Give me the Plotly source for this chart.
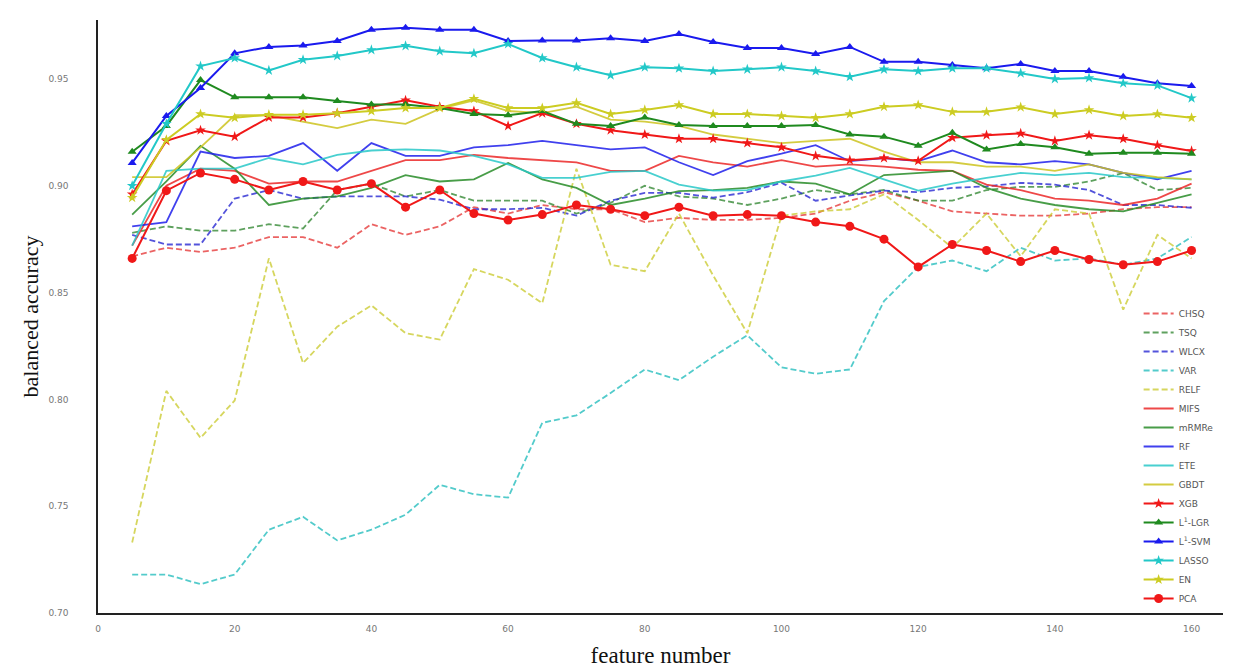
import plotly.graph_objects as go

feature_number = [5, 10, 15, 20, 25, 30, 35, 40, 45, 50, 55, 60, 65, 70, 75, 80,
                  85, 90, 95, 100, 105, 110, 115, 120, 125, 130, 135, 140, 145, 150, 155, 160]

CHSQ = [0.867, 0.871, 0.869, 0.871, 0.876, 0.876, 0.871, 0.882, 0.877, 0.881, 0.890, 0.887, 0.891, 0.889, 0.889, 0.883,
        0.885, 0.884, 0.884, 0.885, 0.887, 0.893, 0.897, 0.893, 0.888, 0.887, 0.886, 0.886, 0.887, 0.889, 0.890, 0.890]
TSQ = [0.878, 0.881, 0.879, 0.879, 0.882, 0.880, 0.898, 0.901, 0.895, 0.898, 0.893, 0.893, 0.893, 0.887, 0.892, 0.900,
       0.895, 0.894, 0.891, 0.894, 0.898, 0.896, 0.898, 0.893, 0.893, 0.898, 0.8995, 0.8995, 0.902, 0.906, 0.898, 0.899]
WLCX = [0.877, 0.8725, 0.8725, 0.894, 0.898, 0.894, 0.895, 0.895, 0.895, 0.8935, 0.889, 0.889, 0.8897, 0.886, 0.893, 0.8967,
        0.8967, 0.8944, 0.897, 0.9014, 0.893, 0.8955, 0.8977, 0.897, 0.899, 0.8997, 0.9014, 0.9005, 0.898, 0.891, 0.891, 0.8897]
VAR = [0.718, 0.718, 0.7135, 0.718, 0.739, 0.745, 0.734, 0.739, 0.746, 0.760, 0.7556, 0.754, 0.789, 0.7925, 0.803, 0.814,
       0.809, 0.820, 0.830, 0.815, 0.812, 0.814, 0.846, 0.862, 0.865, 0.860, 0.871, 0.865, 0.866, 0.863, 0.866, 0.876]
RELF = [0.733, 0.804, 0.782, 0.7995, 0.866, 0.817, 0.834, 0.844, 0.831, 0.828, 0.861, 0.856, 0.845, 0.908, 0.863, 0.860,
        0.887, 0.858, 0.831, 0.886, 0.888, 0.889, 0.896, 0.884, 0.871, 0.887, 0.867, 0.889, 0.887, 0.842, 0.877, 0.866]
MIFS = [0.872, 0.900, 0.908, 0.907, 0.901, 0.902, 0.902, 0.907, 0.912, 0.912, 0.9145, 0.913, 0.912, 0.911, 0.907, 0.907,
        0.914, 0.911, 0.909, 0.912, 0.909, 0.910, 0.909, 0.9075, 0.907, 0.9005, 0.898, 0.894, 0.893, 0.891, 0.894, 0.901]
mRMRe = [0.8865, 0.902, 0.9187, 0.908, 0.891, 0.894, 0.895, 0.899, 0.905, 0.902, 0.903, 0.9107, 0.903, 0.899, 0.891, 0.894,
         0.8975, 0.898, 0.899, 0.902, 0.901, 0.896, 0.905, 0.906, 0.907, 0.899, 0.894, 0.891, 0.889, 0.888, 0.892, 0.896]
RF = [0.881, 0.883, 0.916, 0.913, 0.914, 0.920, 0.907, 0.920, 0.914, 0.914, 0.918, 0.919, 0.921, 0.919, 0.917, 0.918,
      0.911, 0.905, 0.9115, 0.915, 0.919, 0.9115, 0.913, 0.9115, 0.9165, 0.911, 0.910, 0.9115, 0.910, 0.906, 0.903, 0.907]
ETE = [0.872, 0.907, 0.908, 0.908, 0.913, 0.910, 0.9145, 0.9165, 0.917, 0.9165, 0.914, 0.910, 0.9037, 0.9037, 0.9065, 0.907,
       0.9005, 0.8977, 0.898, 0.902, 0.9047, 0.9084, 0.903, 0.8977, 0.901, 0.9037, 0.906, 0.905, 0.906, 0.904, 0.9037, 0.903]
GBDT = [0.904, 0.904, 0.918, 0.933, 0.933, 0.930, 0.927, 0.931, 0.929, 0.936, 0.940, 0.935, 0.934, 0.937, 0.931, 0.930,
        0.928, 0.924, 0.922, 0.920, 0.921, 0.922, 0.916, 0.911, 0.911, 0.909, 0.909, 0.907, 0.910, 0.906, 0.904, 0.903]
XGB = [0.896, 0.921, 0.926, 0.923, 0.932, 0.932, 0.934, 0.937, 0.940, 0.937, 0.935, 0.928, 0.934, 0.929, 0.926, 0.924,
       0.922, 0.922, 0.920, 0.918, 0.914, 0.912, 0.913, 0.9117, 0.9225, 0.9237, 0.9245, 0.921, 0.9237, 0.922, 0.919, 0.9163]
L1_LGR = [0.9159, 0.928, 0.9495, 0.9414, 0.9414, 0.9414, 0.9397, 0.938, 0.938, 0.9364, 0.9336, 0.933, 0.935, 0.929, 0.928, 0.932,
          0.9285, 0.928, 0.928, 0.928, 0.9285, 0.924, 0.923, 0.9187, 0.9248, 0.917, 0.9196, 0.918, 0.915, 0.9155, 0.9155, 0.915]
L1_SVM = [0.9107, 0.9327, 0.9458, 0.962, 0.965, 0.9657, 0.9678, 0.973, 0.974, 0.973, 0.973, 0.9678, 0.968, 0.968, 0.969, 0.9678,
          0.971, 0.9673, 0.9645, 0.9645, 0.9617, 0.965, 0.958, 0.958, 0.9565, 0.955, 0.957, 0.9537, 0.9537, 0.951, 0.948, 0.9467]
LASSO = [0.900, 0.929, 0.956, 0.9598, 0.954, 0.959, 0.9608, 0.9636, 0.9655, 0.963, 0.962, 0.9664, 0.9598, 0.9555, 0.9518, 0.9555,
         0.955, 0.9537, 0.9545, 0.9555, 0.9537, 0.951, 0.9545, 0.9537, 0.955, 0.955, 0.9527, 0.950, 0.9505, 0.948, 0.947, 0.941]
EN = [0.8944, 0.9215, 0.9336, 0.9318, 0.9333, 0.9333, 0.934, 0.935, 0.9364, 0.9364, 0.9407, 0.9364, 0.9364, 0.9388, 0.9336, 0.9355,
      0.9378, 0.9336, 0.9336, 0.9327, 0.9318, 0.9336, 0.937, 0.9378, 0.9346, 0.9346, 0.9368, 0.9336, 0.9355, 0.9327, 0.9336, 0.9318]
PCA = [0.866, 0.8977, 0.906, 0.903, 0.898, 0.902, 0.898, 0.901, 0.890, 0.898, 0.887, 0.884, 0.8865, 0.891, 0.889, 0.886,
       0.890, 0.886, 0.8865, 0.886, 0.883, 0.881, 0.875, 0.862, 0.8725, 0.8697, 0.8645, 0.8697, 0.8655, 0.863, 0.8645, 0.8697]

x_ticks = [0, 20, 40, 60, 80, 100, 120, 140, 160]
y_ticks = [0.70, 0.75, 0.80, 0.85, 0.90, 0.95]

RED = "#f01818"
GREEN = "#1f8a1f"
BLUE = "#1a1aee"
CYAN = "#22c8c8"
YEL = "#cccc22"

series = [
    ("CHSQ", CHSQ, "rgba(230,60,60,0.8)", "dash", None),
    ("TSQ", TSQ, "rgba(40,130,40,0.75)", "dash", None),
    ("WLCX", WLCX, "rgba(40,40,210,0.8)", "dash", None),
    ("VAR", VAR, "rgba(40,190,190,0.8)", "dash", None),
    ("RELF", RELF, "rgba(200,200,40,0.75)", "dash", None),
    ("MIFS", MIFS, "rgba(235,40,40,0.85)", "solid", None),
    ("mRMRe", mRMRe, "rgba(40,140,40,0.85)", "solid", None),
    ("RF", RF, "rgba(30,30,235,0.85)", "solid", None),
    ("ETE", ETE, "rgba(40,200,200,0.85)", "solid", None),
    ("GBDT", GBDT, "rgba(205,195,30,0.85)", "solid", None),
    ("XGB", XGB, RED, "solid", "star"),
    ("L<sup>1</sup>-LGR", L1_LGR, GREEN, "solid", "triangle-up"),
    ("L<sup>1</sup>-SVM", L1_SVM, BLUE, "solid", "triangle-up"),
    ("LASSO", LASSO, CYAN, "solid", "star"),
    ("EN", EN, YEL, "solid", "star"),
    ("PCA", PCA, RED, "solid", "circle"),
]

fig = go.Figure()
for name, vals, color, dash, marker in series:
    if marker is None:
        fig.add_trace(go.Scatter(
            x=feature_number, y=vals, name=name, mode="lines",
            line=dict(color=color, width=1.8, dash=("6px,3px" if dash == "dash" else "solid")),
        ))
    else:
        fig.add_trace(go.Scatter(
            x=feature_number, y=vals, name=name, mode="lines+markers",
            line=dict(color=color, width=2),
            marker=dict(symbol=marker, size=(9 if marker == "circle" else 8), color=color),
        ))

fig.update_layout(
    width=1234, height=667,
    margin=dict(l=90, r=19, t=12, b=62),
    paper_bgcolor="white", plot_bgcolor="white",
    showlegend=True,
    legend=dict(
        x=0.925, xanchor="left", y=0.0, yanchor="bottom",
        bgcolor="rgba(255,255,255,0)",
        font=dict(family="DejaVu Sans", size=9, color="#555"),
        itemwidth=30, tracegroupgap=0,
    ),
    xaxis=dict(
        range=[0, 164.6], tickvals=x_ticks, ticktext=[str(v) for v in x_ticks],
        showgrid=False, zeroline=False, showline=True, linecolor="#222", linewidth=1.5,
        ticks="outside", ticklen=6, tickcolor="rgba(0,0,0,0)", automargin=False,
        tickfont=dict(family="DejaVu Sans", size=9, color="#777"),
        title=dict(text="feature number", font=dict(family="Liberation Serif", size=23, color="#111"), standoff=14),
    ),
    yaxis=dict(
        range=[0.70, 0.9776], tickvals=y_ticks, ticktext=["%.2f" % v for v in y_ticks],
        showgrid=False, zeroline=False, showline=True, linecolor="#222", linewidth=1.5,
        ticks="outside", ticklen=26, tickcolor="rgba(0,0,0,0)", automargin=False,
        tickfont=dict(family="DejaVu Sans", size=9, color="#777"),
        title=dict(text="balanced accuracy", font=dict(family="Liberation Serif", size=22, color="#111"), standoff=4),
    ),
)

fig.write_html("out.html")
